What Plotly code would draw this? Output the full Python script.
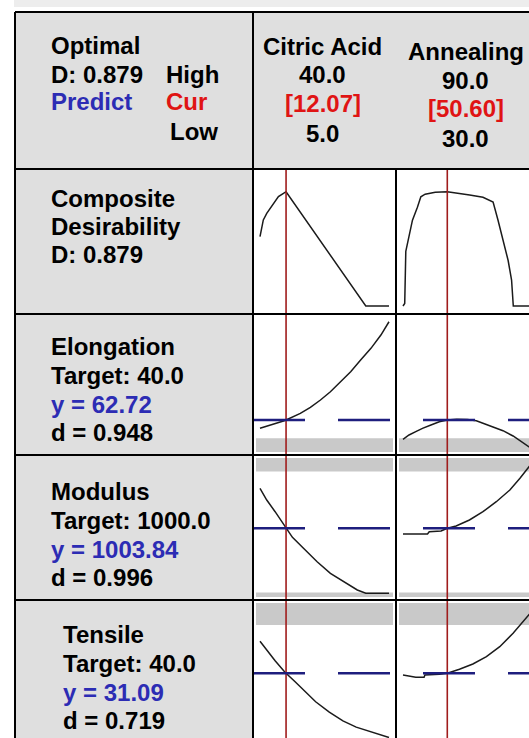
import plotly.graph_objects as go

W, H = 529, 738

# ---------------- factor settings ----------------
factor_names = ["Citric Acid", "Annealing"]
factor_high = [40.0, 90.0]
factor_cur = [12.07, 50.60]
factor_low = [5.0, 30.0]

composite_D = 0.879

# ---------------- responses ----------------
response_names = ["Elongation", "Modulus", "Tensile"]
response_target = [40.0, 1000.0, 40.0]
response_pred = [62.72, 1003.84, 31.09]
response_d = [0.948, 0.996, 0.719]
response_lower = [35.0, 500.0, 8.3]
response_upper = [477.0, 1450.0, 45.0]

# ---------------- profile curves ----------------
comp_citric_x = [5.0, 5.46, 5.9, 6.83, 7.73, 8.64, 10.0, 11.37, 12.07, 33.7, 40.0]
comp_citric_y = [0.533, 0.610, 0.662, 0.713, 0.751, 0.790, 0.841, 0.867, 0.879, 0.0, 0.0]
comp_anneal_x = [30.0, 30.8, 31.3, 32.5, 34.4, 36.7, 38.3, 40.3, 45.0, 50.6, 56.3,
                 61.0, 67.2, 71.9, 74.2, 76.6, 78.9, 80.5, 81.3, 90.0]
comp_anneal_y = [0.0, 0.02, 0.42, 0.51, 0.66, 0.76, 0.84, 0.86, 0.875, 0.879, 0.867,
                 0.854, 0.836, 0.80, 0.66, 0.51, 0.35, 0.20, 0.0, 0.0]

elong_citric_x = [5.0, 6.83, 9.1, 11.37, 12.07, 13.2, 15.94, 18.67, 21.4, 24.1, 26.9,
                  29.6, 32.3, 35.1, 37.8, 40.0]
elong_citric_y = [50.1, 53.0, 56.9, 61.2, 62.72, 65.3, 72.7, 82.0, 93.0, 105.6, 120.7,
                  135.9, 153.6, 171.3, 191.5, 211.6]
elong_anneal_x = [30.0, 32.8, 35.95, 39.05, 43.0, 46.9, 50.6, 55.0, 60.0, 64.1, 67.2,
                  71.9, 76.5, 81.2, 85.2, 88.6, 90.0]
elong_anneal_y = [33.5, 40.0, 45.0, 50.1, 55.1, 60.0, 62.72, 63.8, 63.4, 61.5, 57.7,
                  52.6, 46.5, 38.5, 29.8, 22.3, 18.8]

mod_citric_x = [5.0, 6.83, 9.1, 11.37, 12.07, 13.8, 16.8, 20.5, 24.1, 27.8, 31.4, 33.7, 40.0]
mod_citric_y = [1317.8, 1226.0, 1134.1, 1033.0, 1003.84, 933.2, 846.8, 741.6, 650.6,
                584.6, 519.5, 494.0, 494.0]
mod_anneal_x = [30.0, 41.4, 42.2, 47.7, 50.6, 54.7, 60.9, 67.2, 73.4, 79.7, 84.4, 88.6, 90.0]
mod_anneal_y = [959.1, 959.1, 977.2, 982.6, 1003.84, 1021.9, 1069.0, 1134.1, 1212.6,
                1304.5, 1396.3, 1487.4, 1516.4]

ten_citric_x = [5.0, 6.83, 9.1, 11.37, 12.07, 14.6, 17.4, 20.1, 23.8, 27.5, 31.1, 34.8, 37.5, 40.0]
ten_citric_y = [40.3, 37.7, 34.7, 31.9, 31.09, 28.6, 25.6, 22.9, 19.9, 17.4, 15.6, 14.3, 13.3, 12.6]
ten_anneal_x = [30.0, 32.8, 35.95, 39.8, 40.2, 46.9, 50.6, 56.25, 62.5, 68.8, 75.0, 81.2,
                85.9, 88.6, 90.0]
ten_anneal_y = [30.6, 30.31, 29.94, 29.94, 30.6, 30.8, 31.09, 32.24, 33.77, 35.87, 38.75,
                42.61, 45.95, 47.88, 49.03]

curves = [
    [(comp_citric_x, comp_citric_y), (comp_anneal_x, comp_anneal_y)],
    [(elong_citric_x, elong_citric_y), (elong_anneal_x, elong_anneal_y)],
    [(mod_citric_x, mod_citric_y), (mod_anneal_x, mod_anneal_y)],
    [(ten_citric_x, ten_citric_y), (ten_anneal_x, ten_anneal_y)],
]

# ---------------- grid geometry (pixels) ----------------
LEFT, TOP = 15, 12
COL_EDGES = [253, 396, 539]
ROW_EDGES = [169, 314, 455, 600, 745]
INSET = 3
PAD = 7
row_yranges = [[-0.0385, 1.0308], [14.24, 218.8], [464.5, 1555.7], [12.46, 51.34]]

CELL_GRAY = "#dfdfdf"
BAND_GRAY = "#c9c9c9"
RED = "#a01c1c"
NAVY = "#1e1e7e"
BLUE_TXT = "#2c2cb4"
RED_TXT = "#e01414"
FONT = "Liberation Sans, Arial, sans-serif"
FONT_SIZE = 24


def px_x(px):
    return px / W


def px_y(py):
    return 1 - py / H


fig = go.Figure()
layout = dict(width=W, height=H, margin=dict(l=0, r=0, t=0, b=0),
              paper_bgcolor="white", plot_bgcolor="white", showlegend=False)

shapes = []
annotations = []

for r in range(4):
    y_top = ROW_EDGES[r] + INSET
    y_bot = min(ROW_EDGES[r + 1] - INSET, H)
    for c in range(2):
        k = r * 2 + c + 1
        sfx = "" if k == 1 else str(k)
        x_l = COL_EDGES[c] + INSET
        x_r = min(COL_EDGES[c + 1] - INSET, W)
        a0 = COL_EDGES[c] + PAD
        a1 = COL_EDGES[c + 1] - PAD
        unit = (factor_high[c] - factor_low[c]) / (a1 - a0)
        xr = [factor_low[c] - (a0 - x_l) * unit, factor_high[c] + (x_r - a1) * unit]
        ax = dict(visible=False, showgrid=False, zeroline=False, fixedrange=True)
        layout["xaxis" + sfx] = dict(ax, domain=[px_x(x_l), px_x(x_r)], range=xr,
                                     anchor="y" + sfx)
        layout["yaxis" + sfx] = dict(ax, domain=[px_y(y_bot), px_y(y_top)],
                                     range=row_yranges[r], anchor="x" + sfx)
        xs, ys = curves[r][c]
        fig.add_trace(go.Scatter(x=xs, y=ys, mode="lines", xaxis="x" + sfx, yaxis="y" + sfx,
                                 line=dict(color="#1b1b1b", width=1.5), hoverinfo="skip"))
        if r > 0:
            lo, hi = row_yranges[r]
            lim_lo = response_lower[r - 1]
            lim_hi = response_upper[r - 1]
            if lim_lo > lo:
                shapes.append(dict(type="rect", xref="x" + sfx + " domain", yref="y" + sfx,
                                   x0=0, x1=1, y0=lo, y1=lim_lo, fillcolor=BAND_GRAY,
                                   line=dict(width=0), layer="below"))
            if lim_hi < hi:
                shapes.append(dict(type="rect", xref="x" + sfx + " domain", yref="y" + sfx,
                                   x0=0, x1=1, y0=lim_hi, y1=hi, fillcolor=BAND_GRAY,
                                   line=dict(width=0), layer="below"))

# light strip at the very top
shapes.append(dict(type="rect", xref="paper", yref="paper", x0=px_x(LEFT - 1), x1=1,
                   y0=px_y(7), y1=1, fillcolor="#ededed", line=dict(width=0), layer="below"))
# gray label cells
shapes.append(dict(type="rect", xref="paper", yref="paper", x0=px_x(LEFT), x1=1,
                   y0=px_y(ROW_EDGES[0]), y1=px_y(TOP), fillcolor=CELL_GRAY,
                   line=dict(width=0), layer="below"))
shapes.append(dict(type="rect", xref="paper", yref="paper", x0=px_x(LEFT), x1=px_x(COL_EDGES[0]),
                   y0=0, y1=px_y(ROW_EDGES[0]), fillcolor=CELL_GRAY,
                   line=dict(width=0), layer="below"))

# current factor settings (red verticals)
for c in range(2):
    sfx = "" if c == 0 else str(c + 1)
    shapes.append(dict(type="line", xref="x" + sfx, yref="paper", x0=factor_cur[c],
                       x1=factor_cur[c], y0=0, y1=px_y(ROW_EDGES[0]),
                       line=dict(color=RED, width=1.6), layer="above"))

# predicted responses (dashed navy horizontals)
for i in range(3):
    k = (i + 1) * 2 + 1
    shapes.append(dict(type="line", xref="paper", yref="y" + str(k), x0=px_x(COL_EDGES[0]),
                       x1=1, y0=response_pred[i], y1=response_pred[i],
                       line=dict(color=NAVY, width=2.5, dash="52px,33px"), layer="above"))

# table borders
BLK = dict(color="black", width=2)
shapes.append(dict(type="line", xref="paper", yref="paper", x0=px_x(LEFT), x1=px_x(LEFT),
                   y0=0, y1=px_y(TOP), line=BLK))
shapes.append(dict(type="line", xref="paper", yref="paper", x0=px_x(LEFT), x1=1,
                   y0=px_y(TOP), y1=px_y(TOP), line=BLK))
shapes.append(dict(type="line", xref="paper", yref="paper", x0=px_x(COL_EDGES[0]),
                   x1=px_x(COL_EDGES[0]), y0=0, y1=px_y(TOP), line=BLK))
shapes.append(dict(type="line", xref="paper", yref="paper", x0=px_x(COL_EDGES[1]),
                   x1=px_x(COL_EDGES[1]), y0=0, y1=px_y(ROW_EDGES[0]), line=BLK))
for e in ROW_EDGES[:-1]:
    shapes.append(dict(type="line", xref="paper", yref="paper", x0=px_x(LEFT), x1=1,
                       y0=px_y(e), y1=px_y(e), line=BLK))


def label(text, x, y, color="black", anchor="left"):
    annotations.append(dict(text="<b>" + text + "</b>", x=px_x(x), y=px_y(y), xref="paper",
                            yref="paper", xanchor=anchor, yanchor="middle", showarrow=False,
                            font=dict(family=FONT, size=FONT_SIZE, color=color)))


# header block
label("Optimal", 49, 45)
label("D: %.3f" % composite_D, 49, 74)
label("High", 164, 74)
label("Predict", 49, 102, BLUE_TXT)
label("Cur", 164, 102, RED_TXT)
label("Low", 168, 131)

name_y = [47, 52]
for c in range(2):
    cx = (COL_EDGES[c] + COL_EDGES[c + 1]) / 2 - 2
    label(factor_names[c], cx, name_y[c], anchor="center")
    label("%.1f" % factor_high[c], cx, name_y[c] + 28, anchor="center")
    label("[%.2f]" % factor_cur[c], cx, name_y[c] + 57, RED_TXT, anchor="center")
    label("%.1f" % factor_low[c], cx, name_y[c] + 86, anchor="center")

# composite block
label("Composite", 49, 199)
label("Desirability", 49, 227)
label("D: %.3f" % composite_D, 49, 255)

# response blocks
block_top = [346, 491, 634]
block_x = [49, 49, 61]
for i in range(3):
    y0 = block_top[i]
    x0 = block_x[i]
    label(response_names[i], x0, y0)
    label("Target: %.1f" % response_target[i], x0, y0 + 29)
    label("y = %.2f" % response_pred[i], x0, y0 + 58, BLUE_TXT)
    label("d = %.3f" % response_d[i], x0, y0 + 86)

layout["shapes"] = shapes
layout["annotations"] = annotations
fig.update_layout(**layout)
fig.write_html("out.html")
